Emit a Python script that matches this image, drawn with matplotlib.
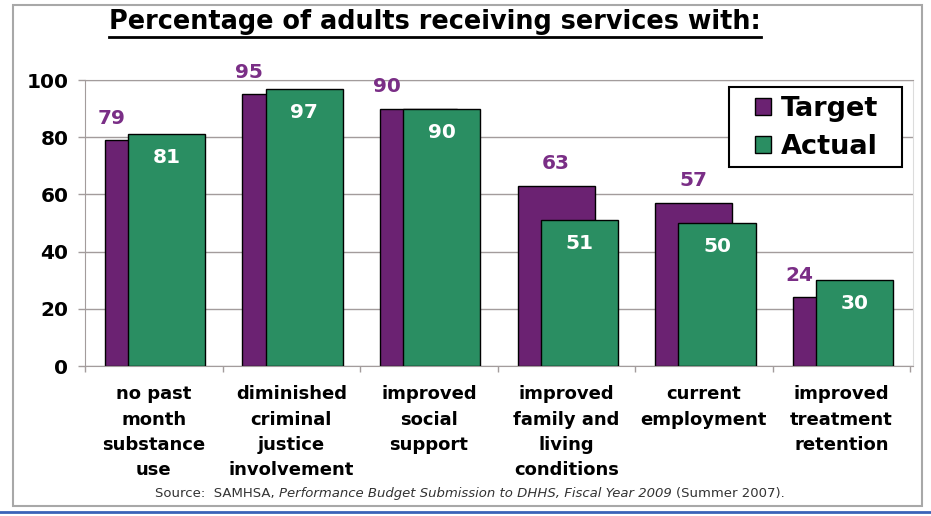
import matplotlib
matplotlib.use('Agg')
import matplotlib.pyplot as plt
from matplotlib.lines import Line2D
from matplotlib.patches import Rectangle
import numpy as np

plt.rcParams['font.family'] = ['DejaVu Sans']

categories = ['no past\nmonth\nsubstance\nuse',
              'diminished\ncriminal\njustice\ninvolvement',
              'improved\nsocial\nsupport',
              'improved\nfamily and\nliving\nconditions',
              'current\nemployment',
              'improved\ntreatment\nretention']
target = [79, 95, 90, 63, 57, 24]
actual = [81, 97, 90, 51, 50, 30]

purple = '#6b2272'
green = '#2a8e62'
label_purple = '#7a2e86'
grid_gray = '#a39c9c'

W, H = 931, 516
fig = plt.figure(figsize=(W / 100, H / 100), dpi=100)
fig.patch.set_facecolor('white')

# plot area in pixel terms
left, right, top, bottom = 85, 913, 80, 366
ax = fig.add_axes([left / W, 1 - bottom / H, (right - left) / W, (bottom - top) / H])

x = np.arange(len(categories))
bw = 0.56
xt = x - 0.075
xa = x + 0.095

bars_t = ax.bar(xt, target, width=bw, color=purple, edgecolor='black', linewidth=1, zorder=2)
bars_a = ax.bar(xa, actual, width=bw, color=green, edgecolor='black', linewidth=1, zorder=3)

for i in range(len(x)):
    if actual[i] >= target[i]:
        lx = xt[i] - bw / 2 + 0.05
    else:
        lx = xt[i]
    ax.annotate(str(target[i]), (lx, target[i]), xytext=(0, 9), textcoords='offset points',
                ha='center', va='bottom', color=label_purple, fontsize=14.5,
                fontweight='bold', zorder=5)
    ax.annotate(str(actual[i]), (xa[i], actual[i]), xytext=(0, -17), textcoords='offset points',
                ha='center', va='center', color='white', fontsize=14.5,
                fontweight='bold', zorder=5)

ax.set_xlim(-0.5, 5.52)
ax.set_ylim(0, 100)
ax.set_yticks(range(0, 101, 20))
ax.yaxis.grid(True, color=grid_gray, linewidth=1)
ax.set_axisbelow(True)
ax.tick_params(axis='y', length=5, width=1, color=grid_gray, pad=7, labelsize=14.5)
for lab in ax.get_yticklabels():
    lab.set_fontweight('bold')

ax.set_xticks(x)
ax.set_xticklabels(categories, fontsize=13, fontweight='bold', linespacing=1.52)
ax.set_xticks(np.arange(-0.5, 6, 1), minor=True)
ax.tick_params(axis='x', which='major', length=0, pad=14)
ax.tick_params(axis='x', which='minor', length=4, width=1, color=grid_gray)

for s in ['left', 'bottom', 'top']:
    ax.spines[s].set_color(grid_gray)
ax.spines['right'].set_color('#dcdcdc')

# legend box drawn separately so the padding can be wider than tall
ax.add_patch(Rectangle((729 / W, 1 - 167 / H), (902 - 729) / W, (167 - 87) / H,
                       transform=fig.transFigure, facecolor='white', edgecolor='black',
                       linewidth=1.5, zorder=6, clip_on=False))
leg = ax.legend([bars_t, bars_a], ['Target', 'Actual'], loc='center left',
                bbox_to_anchor=(755 / W, 1 - 128 / H), bbox_transform=fig.transFigure,
                borderaxespad=0, borderpad=0, frameon=False,
                prop={'weight': 'bold', 'size': 19.5}, handlelength=0.6, handleheight=0.6,
                handletextpad=0.35, labelspacing=0.42)
leg.set_zorder(7)
for h in leg.legend_handles:
    h.set_edgecolor('black')
    h.set_linewidth(1)

# title with underline
renderer = fig.canvas.get_renderer()
title = fig.text(435 / W, 1 - 22 / H, 'Percentage of adults receiving services with:',
                 ha='center', va='center', fontsize=18.4, fontweight='bold')
bb = title.get_window_extent(renderer)
uy = (bb.y0 - 2) / H
fig.add_artist(Line2D([bb.x0 / W, bb.x1 / W], [uy, uy], color='black', linewidth=2))

# source line, italic middle part
src_y = 1 - 493 / H
t1 = fig.text(155 / W, src_y, 'Source:  SAMHSA, ', ha='left', va='center',
              fontsize=9.5, color='#333333')
a2 = fig.add_artist(plt.Annotation('Performance Budget Submission to DHHS, Fiscal Year 2009 ',
                                   xy=(1, 0), xycoords=t1, va='bottom', ha='left',
                                   fontsize=9.5, style='italic', color='#333333'))
fig.add_artist(plt.Annotation('(Summer 2007).', xy=(1, 0), xycoords=a2, va='bottom', ha='left',
                              fontsize=9.5, color='#333333'))

# frame and bottom rule
fig.add_artist(Rectangle((13 / W, 1 - 506 / H), (922 - 13) / W, (506 - 5) / H,
                         transform=fig.transFigure, fill=False, edgecolor='#a8a8a8', linewidth=1.5))
fig.add_artist(Line2D([0, 1], [1 - 512 / H, 1 - 512 / H], color='#3b62b8', linewidth=2))

fig.savefig('out.png', dpi=100)
